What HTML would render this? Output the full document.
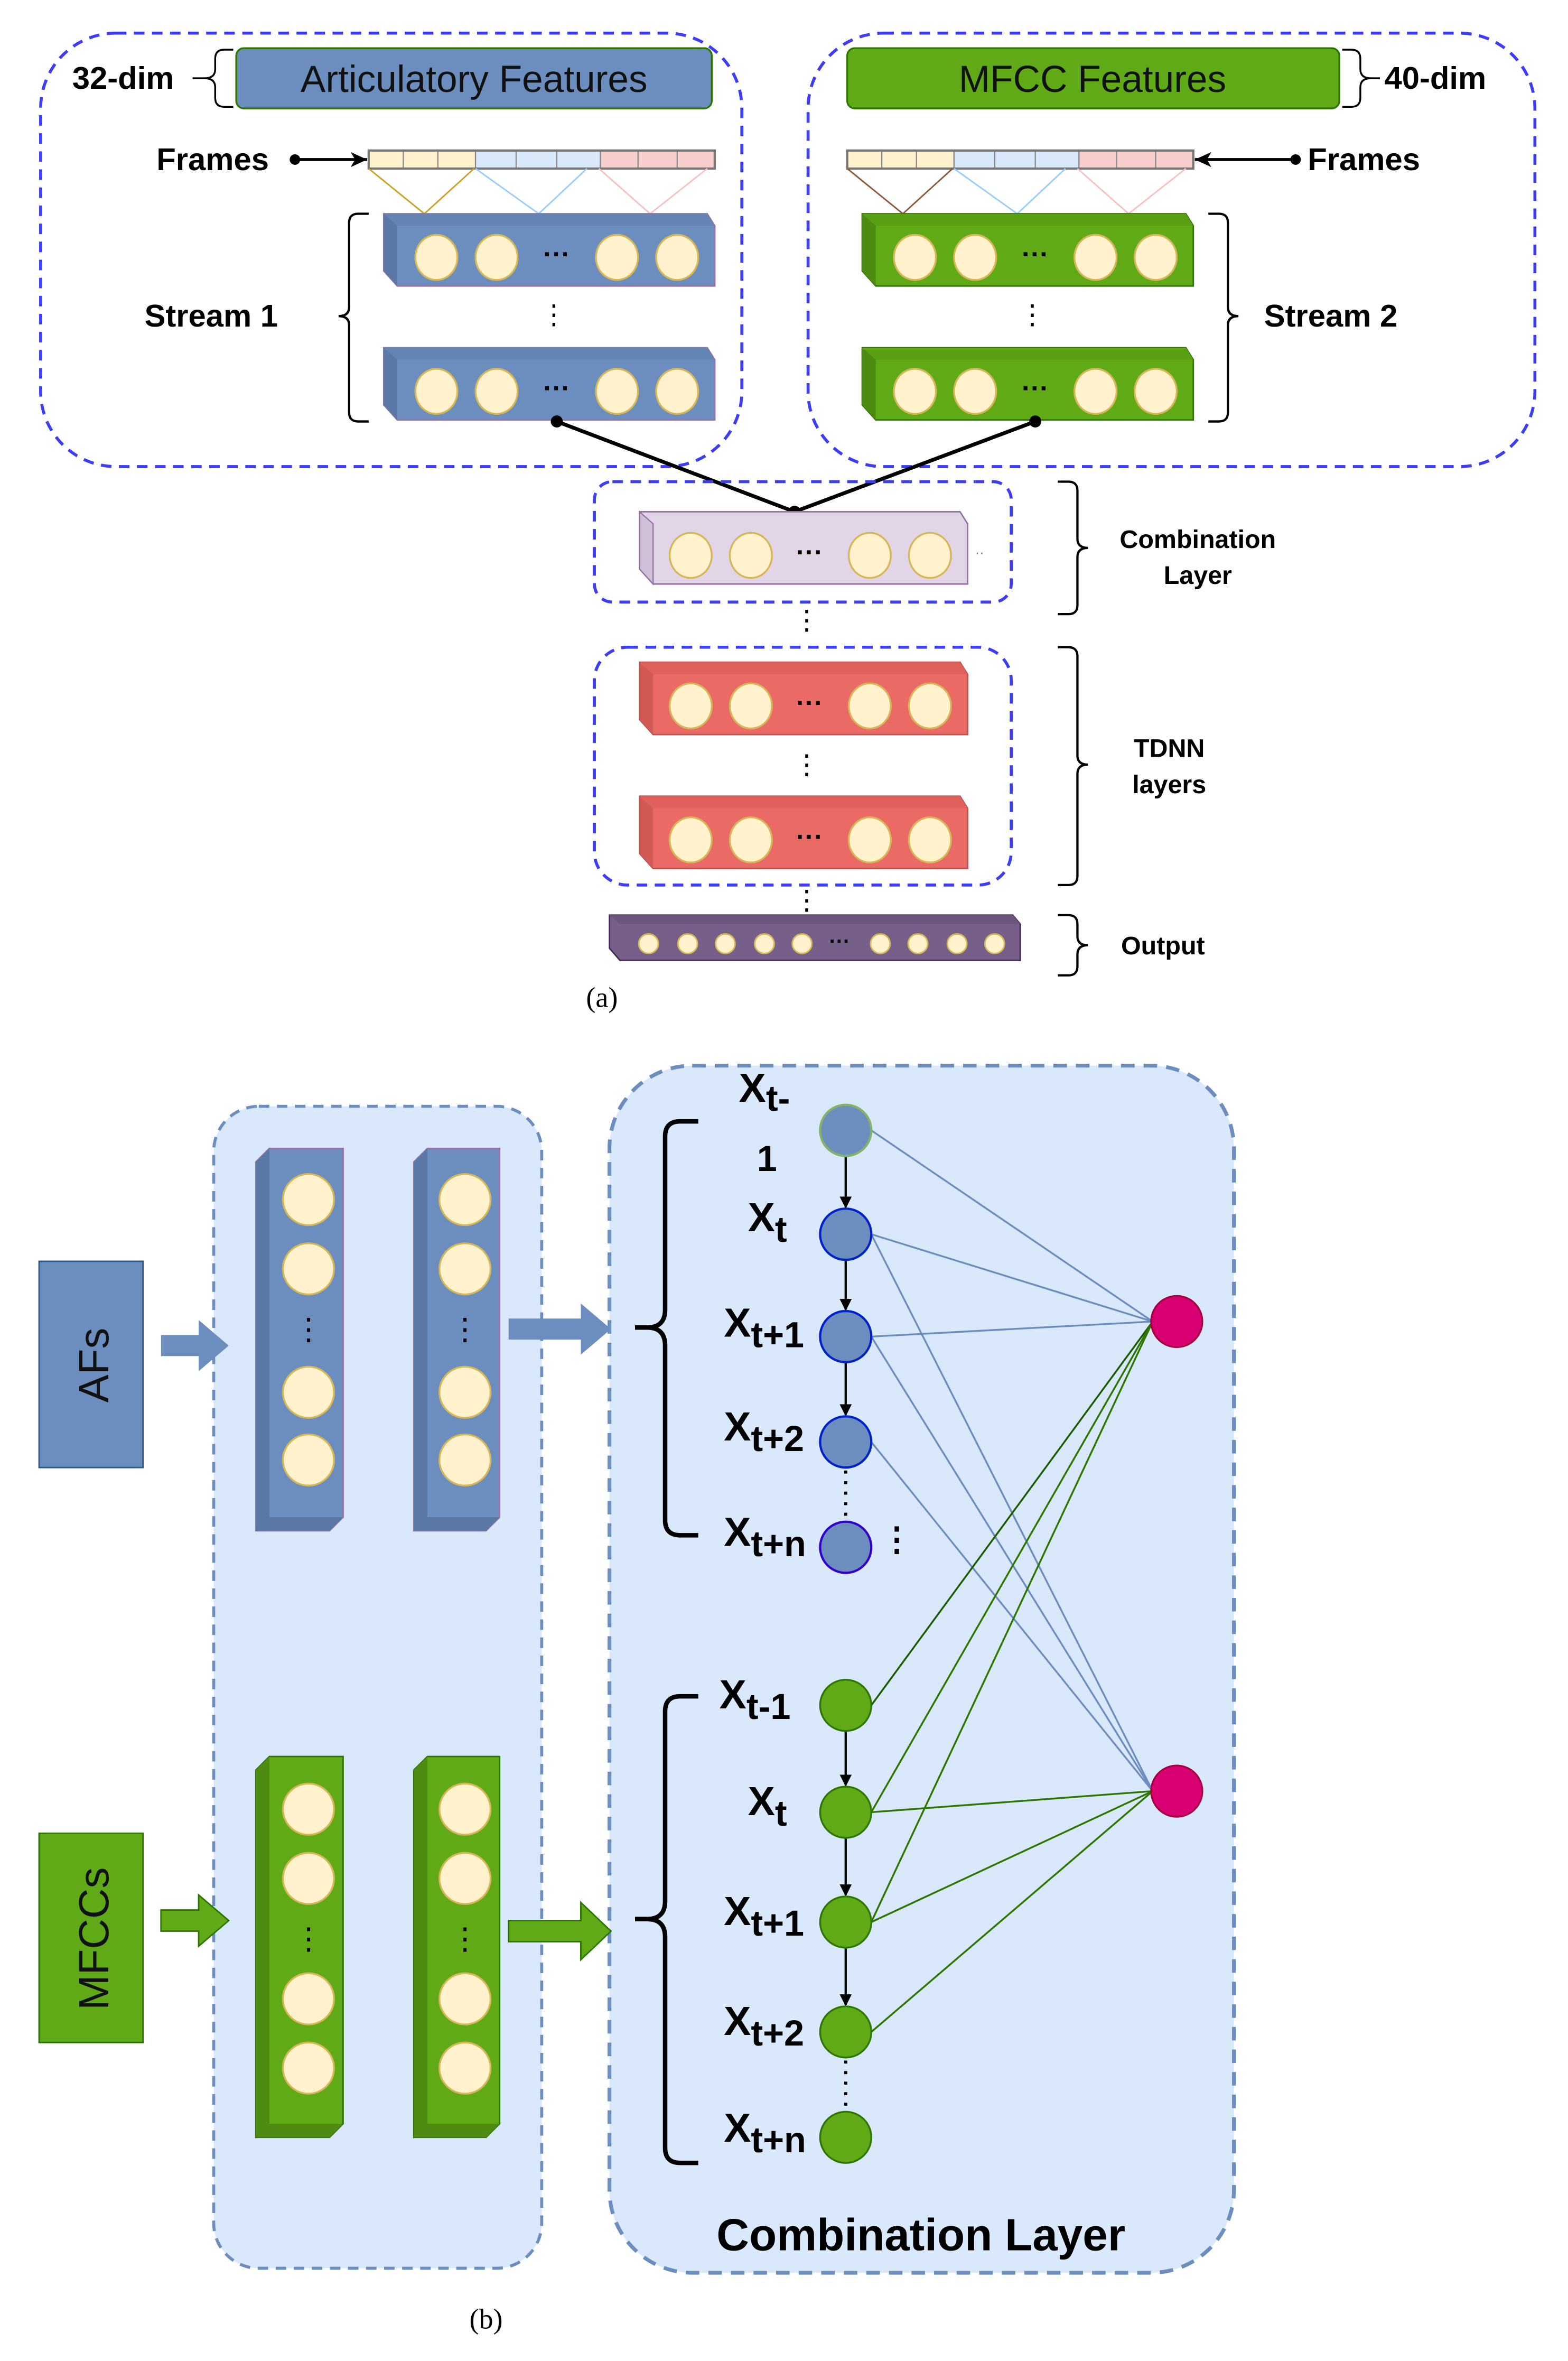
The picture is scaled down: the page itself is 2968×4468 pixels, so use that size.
<!DOCTYPE html>
<html><head><meta charset="utf-8"><style>
html,body{margin:0;padding:0;background:#fff}
svg{display:block}
text{font-family:"Liberation Sans",Arial,sans-serif}
</style></head><body>
<svg width="2968" height="4468" viewBox="0 0 1042 1568.6" xmlns="http://www.w3.org/2000/svg">
<defs>
<g id="nodeB"><circle r="15" fill="#fff2cc" stroke="#d6b656" stroke-width="1.2"/></g>
<marker id="ah" markerWidth="8" markerHeight="8" refX="7" refY="4" orient="auto" markerUnits="userSpaceOnUse"><path d="M0,0 L8,4 L0,8 Z" fill="#000"/></marker>
<marker id="ah2" markerWidth="12" markerHeight="12" refX="11" refY="6" orient="auto" markerUnits="userSpaceOnUse"><path d="M0,1 L11,6 L0,11 L3,6 Z" fill="#000"/></marker>
</defs>

<!-- ===== Part (a) ===== -->
<rect x="27" y="22" width="466" height="288" rx="50" fill="none" stroke="#3d3df5" stroke-width="2" stroke-dasharray="7,5"/>
<rect x="537" y="22" width="483" height="288" rx="50" fill="none" stroke="#3d3df5" stroke-width="2" stroke-dasharray="7,5"/>

<text x="48" y="59" font-size="21" font-weight="bold">32-dim</text>
<path d="M128,52 h8 M155,33 h-6 q-6,0 -6,6 v7 q0,6 -7,6 q7,0 7,6 v7 q0,6 6,6 h6" fill="none" stroke="#000" stroke-width="1.2"/>
<rect x="157" y="32" width="316" height="40" rx="5" fill="#6c8ebf" stroke="#2d7600" stroke-width="1.2"/>
<text x="315" y="61" font-size="25" text-anchor="middle" fill="#111">Articulatory Features</text>

<rect x="563" y="32" width="327" height="40" rx="5" fill="#60a917" stroke="#2d7600" stroke-width="1.2"/>
<text x="726" y="61" font-size="25" text-anchor="middle" fill="#111">MFCC Features</text>
<path d="M892,33 h6 q6,0 6,6 v7 q0,6 7,6 q-7,0 -7,6 v7 q0,6 -6,6 h-6 M911,52 h6" fill="none" stroke="#000" stroke-width="1.2"/>
<text x="920" y="59" font-size="21" font-weight="bold">40-dim</text>

<!-- frames left -->
<text x="104" y="113" font-size="21" font-weight="bold">Frames</text>
<circle cx="196" cy="106" r="3.5" fill="#000"/>
<line x1="196" y1="106" x2="244" y2="106" stroke="#000" stroke-width="2" marker-end="url(#ah2)"/>
<g stroke="#888" stroke-width="0.8">
<rect x="245" y="100" width="71" height="12" fill="#fff2cc"/>
<rect x="316" y="100" width="83" height="12" fill="#dae8fc"/>
<rect x="399" y="100" width="76" height="12" fill="#f8cecc"/>
<line x1="268" y1="100" x2="268" y2="112"/><line x1="291" y1="100" x2="291" y2="112"/>
<line x1="343" y1="100" x2="343" y2="112"/><line x1="370" y1="100" x2="370" y2="112"/>
<line x1="424" y1="100" x2="424" y2="112"/><line x1="450" y1="100" x2="450" y2="112"/>
</g>
<rect x="245" y="100" width="230" height="12" fill="none" stroke="#777" stroke-width="1.5"/>
<path d="M245,112 L282,142 L315,112" fill="none" stroke="#c9a227" stroke-width="1"/>
<path d="M316,112 L358,142 L390,112" fill="none" stroke="#99ccff" stroke-width="1"/>
<path d="M398,112 L432,142 L470,112" fill="none" stroke="#f8c0c0" stroke-width="1"/>

<!-- frames right -->
<g stroke="#888" stroke-width="0.8">
<rect x="563" y="100" width="71" height="12" fill="#fff2cc"/>
<rect x="634" y="100" width="83" height="12" fill="#dae8fc"/>
<rect x="717" y="100" width="76" height="12" fill="#f8cecc"/>
<line x1="586" y1="100" x2="586" y2="112"/><line x1="609" y1="100" x2="609" y2="112"/>
<line x1="661" y1="100" x2="661" y2="112"/><line x1="688" y1="100" x2="688" y2="112"/>
<line x1="742" y1="100" x2="742" y2="112"/><line x1="768" y1="100" x2="768" y2="112"/>
</g>
<rect x="563" y="100" width="230" height="12" fill="none" stroke="#777" stroke-width="1.5"/>
<path d="M563,112 L600,142 L633,112" fill="none" stroke="#8a5a3a" stroke-width="1"/>
<path d="M634,112 L676,142 L708,112" fill="none" stroke="#99ccff" stroke-width="1"/>
<path d="M716,112 L750,142 L788,112" fill="none" stroke="#f8c0c0" stroke-width="1"/>
<circle cx="861" cy="106" r="3.5" fill="#000"/>
<line x1="861" y1="106" x2="794" y2="106" stroke="#000" stroke-width="2" marker-end="url(#ah2)"/>
<text x="869" y="113" font-size="21" font-weight="bold">Frames</text>

<!-- layer template: 3d box -->
<g id="blueLayer">
<path d="M255,142 L470,142 L475,150 L475,190 L264,190 L255,180 Z" fill="#6c8ebf" stroke="#9673a6" stroke-width="1"/>
<path d="M255,142 L470,142 L475,150 L264,150 Z" fill="#6485b4"/>
<path d="M255,142 L264,150 L264,190 L255,180 Z" fill="#5a78a6"/>
</g>
<g fill="#fff2cc" stroke="#d6b656" stroke-width="1.2">
<ellipse cx="290" cy="171" rx="14" ry="15"/><ellipse cx="330" cy="171" rx="14" ry="15"/>
<ellipse cx="410" cy="171" rx="14" ry="15"/><ellipse cx="450" cy="171" rx="14" ry="15"/>
</g>
<text x="370" y="175" font-size="18" text-anchor="middle" font-weight="bold">···</text>
<text x="368" y="215" font-size="18" text-anchor="middle">⋮</text>
<g transform="translate(0,89)">
<path d="M255,142 L470,142 L475,150 L475,190 L264,190 L255,180 Z" fill="#6c8ebf" stroke="#9673a6" stroke-width="1"/>
<path d="M255,142 L470,142 L475,150 L264,150 Z" fill="#6485b4"/>
<path d="M255,142 L264,150 L264,190 L255,180 Z" fill="#5a78a6"/>
<g fill="#fff2cc" stroke="#d6b656" stroke-width="1.2">
<ellipse cx="290" cy="171" rx="14" ry="15"/><ellipse cx="330" cy="171" rx="14" ry="15"/>
<ellipse cx="410" cy="171" rx="14" ry="15"/><ellipse cx="450" cy="171" rx="14" ry="15"/>
</g>
<text x="370" y="175" font-size="18" text-anchor="middle" font-weight="bold">···</text>
</g>
<path d="M245,142 h-7 q-6,0 -6,6 v56 q0,6 -7,6 q7,0 7,6 v58 q0,6 6,6 h7" fill="none" stroke="#000" stroke-width="1.5"/>
<text x="96" y="217" font-size="21" font-weight="bold">Stream 1</text>

<!-- stream 2 -->
<g transform="translate(318,0)">
<path d="M255,142 L470,142 L475,150 L475,190 L264,190 L255,180 Z" fill="#60a917" stroke="#2d7600" stroke-width="1"/>
<path d="M255,142 L470,142 L475,150 L264,150 Z" fill="#58a012"/>
<path d="M255,142 L264,150 L264,190 L255,180 Z" fill="#4d8c10"/>
<g fill="#fff2cc" stroke="#d6b656" stroke-width="1.2">
<ellipse cx="290" cy="171" rx="14" ry="15"/><ellipse cx="330" cy="171" rx="14" ry="15"/>
<ellipse cx="410" cy="171" rx="14" ry="15"/><ellipse cx="450" cy="171" rx="14" ry="15"/>
</g>
<text x="370" y="175" font-size="18" text-anchor="middle" font-weight="bold">···</text>
<text x="368" y="215" font-size="18" text-anchor="middle">⋮</text>
</g>
<g transform="translate(318,89)">
<path d="M255,142 L470,142 L475,150 L475,190 L264,190 L255,180 Z" fill="#60a917" stroke="#2d7600" stroke-width="1"/>
<path d="M255,142 L470,142 L475,150 L264,150 Z" fill="#58a012"/>
<path d="M255,142 L264,150 L264,190 L255,180 Z" fill="#4d8c10"/>
<g fill="#fff2cc" stroke="#d6b656" stroke-width="1.2">
<ellipse cx="290" cy="171" rx="14" ry="15"/><ellipse cx="330" cy="171" rx="14" ry="15"/>
<ellipse cx="410" cy="171" rx="14" ry="15"/><ellipse cx="450" cy="171" rx="14" ry="15"/>
</g>
<text x="370" y="175" font-size="18" text-anchor="middle" font-weight="bold">···</text>
</g>
<path d="M803,142 h7 q6,0 6,6 v56 q0,6 7,6 q-7,0 -7,6 v58 q0,6 -6,6 h-7" fill="none" stroke="#000" stroke-width="1.5"/>
<text x="840" y="217" font-size="21" font-weight="bold">Stream 2</text>

<!-- connectors -->
<line x1="370" y1="280" x2="528" y2="340" stroke="#000" stroke-width="2.5"/>
<line x1="688" y1="280" x2="528" y2="340" stroke="#000" stroke-width="2.5"/>
<circle cx="370" cy="280" r="4" fill="#000"/><circle cx="688" cy="280" r="4" fill="#000"/><circle cx="528" cy="340" r="4" fill="#000"/>

<!-- combination -->
<rect x="395" y="320" width="277" height="80" rx="12" fill="none" stroke="#3d3df5" stroke-width="2" stroke-dasharray="7,5"/>
<g transform="translate(170,198)">
<path d="M255,142 L638,142 L643,150 L643,190 L264,190 L255,180 Z" transform="translate(0,0)" fill="none"/>
</g>
<path d="M425,340 L638,340 L643,348 L643,388 L434,388 L425,378 Z" fill="#e1d5e7" stroke="#9673a6" stroke-width="1"/>
<path d="M425,340 L434,348 L434,388 L425,378 Z" fill="#cfc0d8" stroke="#9673a6" stroke-width="0.8"/>
<g fill="#fff2cc" stroke="#d6b656" stroke-width="1.2">
<ellipse cx="459" cy="369" rx="14" ry="15"/><ellipse cx="499" cy="369" rx="14" ry="15"/>
<ellipse cx="578" cy="369" rx="14" ry="15"/><ellipse cx="618" cy="369" rx="14" ry="15"/>
</g>
<text x="538" y="373" font-size="18" text-anchor="middle" font-weight="bold">···</text>
<text x="648" y="370" font-size="9" fill="#9673a6">··</text>
<text x="536" y="418" font-size="18" text-anchor="middle">⋮</text>
<path d="M703,320 h7 q6,0 6,6 v32 q0,6 7,6 q-7,0 -7,6 v32 q0,6 -6,6 h-7" fill="none" stroke="#000" stroke-width="1.5"/>
<text x="796" y="364" font-size="17" font-weight="bold" text-anchor="middle">Combination</text>
<text x="796" y="388" font-size="17" font-weight="bold" text-anchor="middle">Layer</text>

<!-- TDNN -->
<rect x="395" y="430" width="277" height="158" rx="22" fill="none" stroke="#3d3df5" stroke-width="2" stroke-dasharray="7,5"/>
<g>
<path d="M425,440 L638,440 L643,448 L643,488 L434,488 L425,478 Z" fill="#ea6b66" stroke="#b85450" stroke-width="1"/>
<path d="M425,440 L638,440 L643,448 L434,448 Z" fill="#e0605b"/>
<path d="M425,440 L434,448 L434,488 L425,478 Z" fill="#d25a55"/>
<g fill="#fff2cc" stroke="#d6b656" stroke-width="1.2">
<ellipse cx="459" cy="469" rx="14" ry="15"/><ellipse cx="499" cy="469" rx="14" ry="15"/>
<ellipse cx="578" cy="469" rx="14" ry="15"/><ellipse cx="618" cy="469" rx="14" ry="15"/>
</g>
<text x="538" y="473" font-size="18" text-anchor="middle" font-weight="bold">···</text>
</g>
<text x="536" y="514" font-size="18" text-anchor="middle">⋮</text>
<g transform="translate(0,89)">
<path d="M425,440 L638,440 L643,448 L643,488 L434,488 L425,478 Z" fill="#ea6b66" stroke="#b85450" stroke-width="1"/>
<path d="M425,440 L638,440 L643,448 L434,448 Z" fill="#e0605b"/>
<path d="M425,440 L434,448 L434,488 L425,478 Z" fill="#d25a55"/>
<g fill="#fff2cc" stroke="#d6b656" stroke-width="1.2">
<ellipse cx="459" cy="469" rx="14" ry="15"/><ellipse cx="499" cy="469" rx="14" ry="15"/>
<ellipse cx="578" cy="469" rx="14" ry="15"/><ellipse cx="618" cy="469" rx="14" ry="15"/>
</g>
<text x="538" y="473" font-size="18" text-anchor="middle" font-weight="bold">···</text>
</g>
<path d="M703,430 h7 q6,0 6,6 v66 q0,6 7,6 q-7,0 -7,6 v68 q0,6 -6,6 h-7" fill="none" stroke="#000" stroke-width="1.5"/>
<text x="777" y="503" font-size="17" font-weight="bold" text-anchor="middle">TDNN</text>
<text x="777" y="527" font-size="17" font-weight="bold" text-anchor="middle">layers</text>
<text x="536" y="604" font-size="18" text-anchor="middle">⋮</text>

<!-- output -->
<path d="M405,608 L673,608 L678,614 L678,638 L412,638 L405,630 Z" fill="#76608a" stroke="#432d57" stroke-width="1"/>
<path d="M405,608 L673,608 L678,614 L412,614 Z" fill="#6c5680"/>
<g fill="#fff2cc" stroke="#d6b656" stroke-width="1">
<circle cx="431" cy="627" r="6.5"/><circle cx="457" cy="627" r="6.5"/><circle cx="482" cy="627" r="6.5"/><circle cx="508" cy="627" r="6.5"/><circle cx="533" cy="627" r="6.5"/>
<circle cx="585" cy="627" r="6.5"/><circle cx="610" cy="627" r="6.5"/><circle cx="636" cy="627" r="6.5"/><circle cx="661" cy="627" r="6.5"/>
</g>
<text x="558" y="630" font-size="14" text-anchor="middle" font-weight="bold">···</text>
<path d="M703,608 h7 q6,0 6,6 v8 q0,6 7,6 q-7,0 -7,6 v8 q0,6 -6,6 h-7" fill="none" stroke="#000" stroke-width="1.5"/>
<text x="745" y="634" font-size="17" font-weight="bold">Output</text>
<text x="400" y="669" font-size="19" text-anchor="middle" font-family="Liberation Serif,serif" style="font-family:'Liberation Serif',serif">(a)</text>

<!-- ===== Part (b) ===== -->
<rect x="142" y="735" width="218" height="772" rx="30" fill="#dae8fc" stroke="#6c8ebf" stroke-width="2" stroke-dasharray="7,5"/>
<rect x="405" y="708" width="415" height="802" rx="55" fill="#dae8fc" stroke="#6c8ebf" stroke-width="2.5" stroke-dasharray="9,6"/>

<rect x="26" y="838" width="69" height="137" fill="#6c8ebf" stroke="#2d5a8a" stroke-width="1"/>
<text transform="translate(72,907) rotate(-90)" font-size="28" text-anchor="middle" fill="#111">AFs</text>
<rect x="26" y="1218" width="69" height="139" fill="#60a917" stroke="#2d7600" stroke-width="1"/>
<text transform="translate(72,1288) rotate(-90)" font-size="28" text-anchor="middle" fill="#111">MFCCs</text>

<!-- block arrows -->
<path d="M107,887 h25 v-10 l20,17 l-20,17 v-10 h-25 Z" fill="#6c8ebf"/>
<path d="M338,876 h48 v-10 l20,17 l-20,17 v-10 h-48 Z" fill="#6c8ebf"/>
<path d="M107,1269 h25 v-10 l20,17 l-20,17 v-10 h-25 Z" fill="#60a917" stroke="#2d7600" stroke-width="1"/>
<path d="M338,1276 h48 v-12 l20,19 l-20,19 v-12 h-48 Z" fill="#60a917" stroke="#2d7600" stroke-width="1"/>

<!-- blue columns -->
<g>
<path d="M179,763 L228,763 L228,1008 L219,1017 L170,1017 L170,772 Z" fill="#6c8ebf" stroke="#9673a6" stroke-width="1"/>
<path d="M170,772 L179,763 L179,1008 L170,1017 Z" fill="#5a78a6"/>
<path d="M179,1008 L228,1008 L219,1017 L170,1017 Z" fill="#5a78a6"/>
<path d="M284,763 L332,763 L332,1008 L323,1017 L275,1017 L275,772 Z" fill="#6c8ebf" stroke="#9673a6" stroke-width="1"/>
<path d="M275,772 L284,763 L284,1008 L275,1017 Z" fill="#5a78a6"/>
<path d="M284,1008 L332,1008 L323,1017 L275,1017 Z" fill="#5a78a6"/>
</g>
<g fill="#fff2cc" stroke="#d6b656" stroke-width="1.2">
<circle cx="205" cy="797" r="17"/><circle cx="205" cy="843" r="17"/><circle cx="205" cy="925" r="17"/><circle cx="205" cy="970" r="17"/>
<circle cx="309" cy="797" r="17"/><circle cx="309" cy="843" r="17"/><circle cx="309" cy="925" r="17"/><circle cx="309" cy="970" r="17"/>
</g>
<text x="205" y="890" font-size="20" text-anchor="middle">⋮</text>
<text x="309" y="890" font-size="20" text-anchor="middle">⋮</text>

<!-- green columns -->
<g>
<path d="M179,1167 L228,1167 L228,1411 L219,1420 L170,1420 L170,1176 Z" fill="#60a917" stroke="#2d7600" stroke-width="1"/>
<path d="M170,1176 L179,1167 L179,1411 L170,1420 Z" fill="#4d8c10"/>
<path d="M179,1411 L228,1411 L219,1420 L170,1420 Z" fill="#4d8c10"/>
<path d="M284,1167 L332,1167 L332,1411 L323,1420 L275,1420 L275,1176 Z" fill="#60a917" stroke="#2d7600" stroke-width="1"/>
<path d="M275,1176 L284,1167 L284,1411 L275,1420 Z" fill="#4d8c10"/>
<path d="M284,1411 L332,1411 L323,1420 L275,1420 Z" fill="#4d8c10"/>
</g>
<g fill="#fff2cc" stroke="#d6b656" stroke-width="1.2">
<circle cx="205" cy="1202" r="17"/><circle cx="205" cy="1248" r="17"/><circle cx="205" cy="1328" r="17"/><circle cx="205" cy="1374" r="17"/>
<circle cx="309" cy="1202" r="17"/><circle cx="309" cy="1248" r="17"/><circle cx="309" cy="1328" r="17"/><circle cx="309" cy="1374" r="17"/>
</g>
<text x="205" y="1295" font-size="20" text-anchor="middle">⋮</text>
<text x="309" y="1295" font-size="20" text-anchor="middle">⋮</text>

<!-- braces -->
<path d="M464,745 h-12 q-10,0 -10,10 v115 q0,12 -12,12 h-8 M430,882 q12,0 12,12 v116 q0,10 10,10 h12" fill="none" stroke="#000" stroke-width="3"/>
<path d="M464,1127 h-12 q-10,0 -10,10 v126 q0,12 -12,12 h-8 M430,1275 q12,0 12,12 v140 q0,10 10,10 h12" fill="none" stroke="#000" stroke-width="3"/>

<!-- connection lines -->
<g stroke="#6c8ebf" stroke-width="1.2">
<line x1="579" y1="751" x2="766" y2="878"/>
<line x1="579" y1="820" x2="766" y2="878"/>
<line x1="579" y1="888" x2="766" y2="878"/>
<line x1="579" y1="820" x2="766" y2="1190"/>
<line x1="579" y1="888" x2="766" y2="1190"/>
<line x1="579" y1="958" x2="766" y2="1190"/>
</g>
<g stroke="#2d7600" stroke-width="1.2">
<line x1="579" y1="1133" x2="766" y2="878" stroke="#1a5c00"/>
<line x1="579" y1="1204" x2="766" y2="878"/>
<line x1="579" y1="1277" x2="766" y2="878"/>
<line x1="579" y1="1204" x2="766" y2="1190"/>
<line x1="579" y1="1277" x2="766" y2="1190"/>
<line x1="579" y1="1350" x2="766" y2="1190"/>
</g>

<!-- vertical arrows -->
<g stroke="#000" stroke-width="1.5" marker-end="url(#ah)">
<line x1="562" y1="768" x2="562" y2="802"/>
<line x1="562" y1="837" x2="562" y2="870"/>
<line x1="562" y1="905" x2="562" y2="940"/>
<line x1="562" y1="1150" x2="562" y2="1186"/>
<line x1="562" y1="1221" x2="562" y2="1259"/>
<line x1="562" y1="1294" x2="562" y2="1332"/>
</g>
<line x1="562" y1="977" x2="562" y2="1010" stroke="#000" stroke-width="2" stroke-dasharray="2,5"/>
<line x1="562" y1="1369" x2="562" y2="1402" stroke="#000" stroke-width="2" stroke-dasharray="2,5"/>

<!-- nodes -->
<g fill="#6c8ebf" stroke-width="1.5">
<circle cx="562" cy="751" r="17" stroke="#82b366"/>
<circle cx="562" cy="820" r="17" stroke="#0022cc"/>
<circle cx="562" cy="888" r="17" stroke="#0022cc"/>
<circle cx="562" cy="958" r="17" stroke="#0022cc"/>
<circle cx="562" cy="1028" r="17" stroke="#3300cc"/>
</g>
<g fill="#60a917" stroke="#2d7600" stroke-width="1.2">
<circle cx="562" cy="1133" r="17"/><circle cx="562" cy="1204" r="17"/><circle cx="562" cy="1277" r="17"/><circle cx="562" cy="1350" r="17"/><circle cx="562" cy="1420" r="17"/>
</g>
<circle cx="782" cy="878" r="17" fill="#d80073" stroke="#a50040" stroke-width="1.2"/>
<circle cx="782" cy="1190" r="17" fill="#d80073" stroke="#a50040" stroke-width="1.2"/>
<text x="596" y="1030" font-size="22" text-anchor="middle" font-weight="bold">⋮</text>

<!-- labels -->
<g font-weight="bold" font-size="27">
<text x="491" y="732">X<tspan font-size="24" dy="6">t-</tspan></text>
<text x="503" y="778" font-size="24">1</text>
<text x="497" y="818">X<tspan font-size="24" dy="7">t</tspan></text>
<text x="481" y="888">X<tspan font-size="24" dy="7">t+1</tspan></text>
<text x="481" y="957">X<tspan font-size="24" dy="7">t+2</tspan></text>
<text x="481" y="1027">X<tspan font-size="24" dy="7">t+n</tspan></text>
<text x="478" y="1135">X<tspan font-size="24" dy="7">t-1</tspan></text>
<text x="497" y="1206">X<tspan font-size="24" dy="7">t</tspan></text>
<text x="481" y="1279">X<tspan font-size="24" dy="7">t+1</tspan></text>
<text x="481" y="1352">X<tspan font-size="24" dy="7">t+2</tspan></text>
<text x="481" y="1423">X<tspan font-size="24" dy="7">t+n</tspan></text>
</g>
<text x="612" y="1495" font-size="30" font-weight="bold" text-anchor="middle">Combination Layer</text>
<text x="323" y="1547" font-size="19" text-anchor="middle" style="font-family:'Liberation Serif',serif">(b)</text>
</svg>
</body></html>
